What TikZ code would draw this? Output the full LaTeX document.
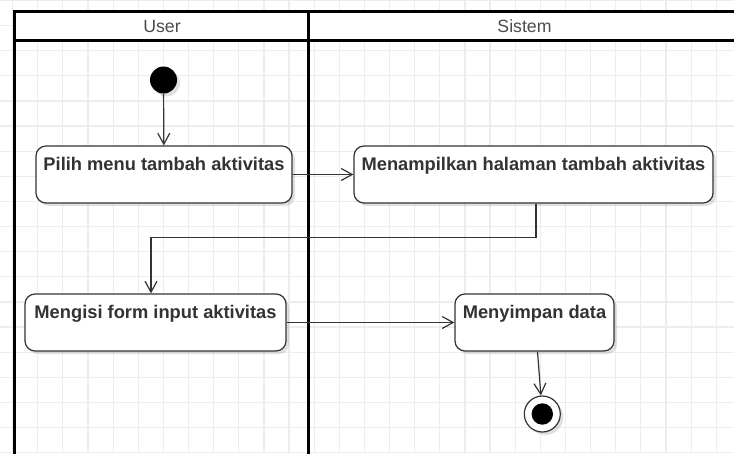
\documentclass[tikz,border=0pt]{standalone}
\usepackage{fontspec}
\setmainfont{Liberation Sans}
\usetikzlibrary{arrows.meta,shadows}

\begin{document}
\begin{tikzpicture}[x=1pt,y=-1pt,
  gridline/.style={draw=black!7,line width=1.2pt},
  lajur/.style={draw=black,line width=3pt},
  judul/.style={text=black!70,font=\fontsize{17.7}{20}\selectfont,inner sep=0pt},
  aksi/.style={draw=black!80,line width=1.2pt,rounded corners=10pt,fill=white,
    text=black!80,font=\bfseries\fontsize{18.3}{20}\selectfont,inner sep=0pt,
    minimum height=57pt,text height=24.5pt,text depth=32.5pt,
    drop shadow={shadow xshift=3pt,shadow yshift=-3pt,opacity=0.12,fill=black}},
  awal/.style={circle,fill=black,minimum size=27pt,inner sep=0pt,
    drop shadow={shadow xshift=3pt,shadow yshift=-3pt,opacity=0.12,fill=black}},
  akhir/.style={circle,draw=black!80,line width=1.2pt,fill=white,minimum size=36pt,inner sep=0pt,
    path picture={\fill[black] (path picture bounding box.center) circle (10.7pt);},
    drop shadow={shadow xshift=3pt,shadow yshift=-3pt,opacity=0.12,fill=black}},
  panah/.style={draw=black!80,line width=1.2pt,-{Straight Barb[length=11pt,width=12pt,line width=1.2pt]}}]

\useasboundingbox (0,0) rectangle (734,453);
\clip (0,0) rectangle (734,453);

\foreach \i in {0,...,28}
  \draw[gridline] ({12.6+25.13*\i},0) -- ++(0,453);
\foreach \j in {0,...,18}
  \draw[gridline] (0,{0.4+25.13*\j}) -- ++(734,0);

\fill[white] (14,11) rectangle (741,40);
\draw[lajur] (14,460) -- (14,11) -- (741,11);
\draw[lajur] (14,40) -- (741,40);
\draw[lajur] (308.5,11) -- (308.5,460);

\node[judul] (user) at (162,26) {User};
\node[judul] (sistem) at (524.5,26) {Sistem};

\node[awal] (mulai) at (163.5,80) {};
\node[aksi,minimum width=256pt] (pilih) at (164,174.5) {Pilih menu tambah aktivitas};
\node[aksi,minimum width=359pt] (tampil) at (533.5,174.5) {Menampilkan halaman tambah aktivitas};
\node[aksi,minimum width=261pt] (isi) at (155.5,322.5) {Mengisi form input aktivitas};
\node[aksi,minimum width=159pt] (simpan) at (534.5,322.5) {Menyimpan data};
\node[akhir] (selesai) at (542.3,414) {};

\draw[panah] (mulai) -- (pilih);
\draw[panah] (pilih) -- (tampil);
\draw[panah] ([xshift=2.5pt]tampil.south) -- ++(0,34) -| ([xshift=-4.5pt]isi.north);
\draw[panah] (isi) -- (simpan);
\draw[panah] ([xshift=3pt]simpan.south) -- (selesai);

\end{tikzpicture}
\end{document}
